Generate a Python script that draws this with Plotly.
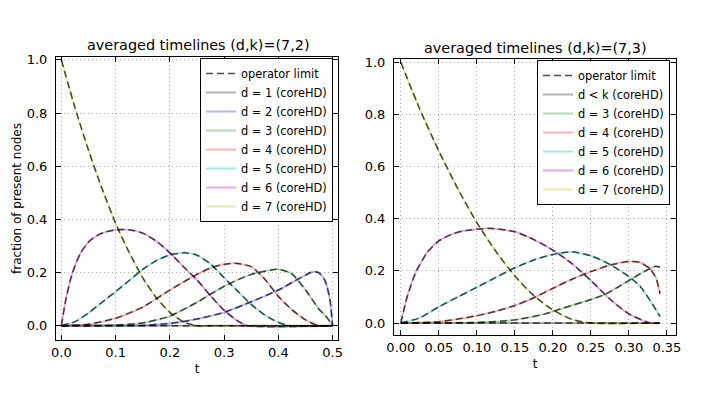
import plotly.graph_objects as go

# -----------------------
# data
# -----------------------
# (d,k) = (7,2)
t72_d1 = [0, 0.5]
n72_d1 = [0, 0]
t72_d2 = [0, 0.1, 0.15, 0.2, 0.25, 0.3, 0.35, 0.4, 0.43, 0.45, 0.464, 0.475, 0.486, 0.495, 0.5]
n72_d2 = [0, 0.0, 0.001, 0.008, 0.025, 0.05, 0.09, 0.134, 0.168, 0.19, 0.203, 0.199, 0.17, 0.1, 0.0]
t72_d3 = [0, 0.1, 0.15, 0.2, 0.25, 0.3, 0.35, 0.4, 0.425, 0.45, 0.475, 0.49, 0.5]
n72_d3 = [0, 0.002, 0.01, 0.036, 0.088, 0.148, 0.193, 0.212, 0.195, 0.135, 0.062, 0.03, 0]
t72_d4 = [0, 0.05, 0.1, 0.15, 0.2, 0.25, 0.275, 0.3, 0.32, 0.35, 0.375, 0.4, 0.425, 0.45, 0.4735, 0.5]
n72_d4 = [0, 0.005, 0.028, 0.07, 0.134, 0.193, 0.217, 0.231, 0.235, 0.222, 0.175, 0.11, 0.06, 0.022, 0, 0]
t72_d5 = [0, 0.025, 0.05, 0.075, 0.1, 0.125, 0.15, 0.175, 0.2, 0.228, 0.25, 0.275, 0.3, 0.325, 0.35, 0.375, 0.4, 0.42, 0.5]
n72_d5 = [0, 0.015, 0.048, 0.088, 0.128, 0.17, 0.212, 0.245, 0.266, 0.274, 0.265, 0.232, 0.18, 0.13, 0.08, 0.04, 0.012, 0, 0]
t72_d6 = [0, 0.008, 0.02, 0.035, 0.05, 0.065, 0.08, 0.1, 0.116, 0.135, 0.15, 0.175, 0.2, 0.225, 0.25, 0.275, 0.3, 0.325, 0.342, 0.5]
n72_d6 = [0, 0.097, 0.197, 0.272, 0.315, 0.338, 0.352, 0.36, 0.362, 0.357, 0.348, 0.318, 0.274, 0.222, 0.172, 0.112, 0.058, 0.018, 0, 0]
t72_d7 = [0, 0.025, 0.05, 0.075, 0.1, 0.125, 0.15, 0.175, 0.2, 0.225, 0.25, 0.3, 0.4, 0.5]
n72_d7 = [1.0, 0.82, 0.66, 0.515, 0.385, 0.275, 0.18, 0.105, 0.05, 0.014, 0.0, 0, 0, 0]

# (d,k) = (7,3)
t73_dk = [0, 0.341]
n73_dk = [0, 0]
t73_d3 = [0, 0.1, 0.15, 0.19, 0.21, 0.25, 0.27, 0.3, 0.32, 0.335, 0.341]
n73_d3 = [0, 0.002, 0.012, 0.035, 0.054, 0.09, 0.112, 0.163, 0.197, 0.218, 0.214]
t73_d4 = [0, 0.05, 0.075, 0.1, 0.125, 0.15, 0.175, 0.2, 0.225, 0.25, 0.275, 0.3, 0.315, 0.328, 0.336, 0.341]
n73_d4 = [0, 0.005, 0.015, 0.028, 0.045, 0.067, 0.097, 0.133, 0.168, 0.197, 0.222, 0.236, 0.232, 0.208, 0.17, 0.112]
t73_d5 = [0, 0.025, 0.05, 0.075, 0.1, 0.125, 0.15, 0.175, 0.2, 0.225, 0.25, 0.275, 0.3, 0.315, 0.328, 0.341]
n73_d5 = [0, 0.02, 0.062, 0.1, 0.137, 0.175, 0.212, 0.242, 0.263, 0.273, 0.258, 0.225, 0.178, 0.14, 0.086, 0.025]
t73_d6 = [0, 0.008, 0.02, 0.035, 0.05, 0.065, 0.08, 0.1, 0.12, 0.15, 0.175, 0.2, 0.225, 0.25, 0.275, 0.3, 0.328, 0.341]
n73_d6 = [0, 0.097, 0.197, 0.272, 0.315, 0.338, 0.352, 0.36, 0.363, 0.35, 0.32, 0.28, 0.228, 0.163, 0.092, 0.035, 0, 0]
t73_d7 = [0, 0.025, 0.05, 0.075, 0.1, 0.125, 0.15, 0.175, 0.2, 0.225, 0.25, 0.341]
n73_d7 = [1.0, 0.82, 0.66, 0.515, 0.385, 0.275, 0.18, 0.105, 0.05, 0.014, 0.0, 0.0]

labels72 = ['d = 1 (coreHD)', 'd = 2 (coreHD)', 'd = 3 (coreHD)', 'd = 4 (coreHD)',
            'd = 5 (coreHD)', 'd = 6 (coreHD)', 'd = 7 (coreHD)']
labels73 = ['d < k (coreHD)', 'd = 3 (coreHD)', 'd = 4 (coreHD)',
            'd = 5 (coreHD)', 'd = 6 (coreHD)', 'd = 7 (coreHD)']

series72 = [(t72_d1, n72_d1), (t72_d2, n72_d2), (t72_d3, n72_d3), (t72_d4, n72_d4),
            (t72_d5, n72_d5), (t72_d6, n72_d6), (t72_d7, n72_d7)]
series73 = [(t73_dk, n73_dk), (t73_d3, n73_d3), (t73_d4, n73_d4),
            (t73_d5, n73_d5), (t73_d6, n73_d6), (t73_d7, n73_d7)]

# old matplotlib k b g r c m y, faded
colors72 = ['rgba(0,0,0,0.3)', 'rgba(0,0,255,0.3)', 'rgba(0,128,0,0.3)', 'rgba(255,0,0,0.3)',
            'rgba(0,191,191,0.35)', 'rgba(191,0,191,0.35)', 'rgba(191,191,0,0.35)']
colors73 = ['rgba(0,0,0,0.3)', 'rgba(0,128,0,0.3)', 'rgba(255,0,0,0.3)',
            'rgba(0,191,191,0.35)', 'rgba(191,0,191,0.35)', 'rgba(191,191,0,0.35)']

FONT = 'DejaVu Sans'
W, H = 709, 394
ML, MR, MT, MB = 30, 10, 10, 10


def fx(px):
    return (px - ML) / (W - ML - MR)


def fy(py):
    return (H - MB - py) / (H - MT - MB)


fig = go.Figure()


def add_panel(series, labels, colors, xa, ya, leg):
    for i, ((t, n), lab, col) in enumerate(zip(series, labels, colors)):
        fig.add_trace(go.Scatter(
            x=t, y=n, mode='lines', name=lab, legend=leg, legendrank=i + 2,
            line=dict(color=col, width=2, shape='spline', smoothing=0.6),
            xaxis=xa, yaxis=ya))
    # operator limit (dashed black on top)
    for i, (t, n) in enumerate(series):
        fig.add_trace(go.Scatter(
            x=t, y=n, mode='lines', name='operator limit', legend=leg, legendrank=1,
            showlegend=(i == 0),
            line=dict(color='rgba(0,0,0,0.7)', width=1.5, dash='7px,4px',
                      shape='spline', smoothing=0.6),
            xaxis=xa, yaxis=ya))


add_panel(series72, labels72, colors72, 'x', 'y', 'legend')
add_panel(series73, labels73, colors73, 'x2', 'y2', 'legend2')

axis_style = dict(showline=True, linecolor='black', linewidth=1, mirror='ticks',
                  ticks='inside', ticklen=5, tickcolor='black', zeroline=False,
                  showgrid=True, gridcolor='#b0b0b0', griddash='1px,3px', gridwidth=1,
                  automargin=False,
                  tickfont=dict(family=FONT, size=13, color='black'))
label_font = dict(family=FONT, size=12, color='black')
title_font = dict(family=FONT, size=14.4, color='black')

legend_style = dict(bgcolor='white', bordercolor='black', borderwidth=1,
                    font=dict(family=FONT, size=11.4, color='black'),
                    tracegroupgap=0, xanchor='right', yanchor='top')

fig.update_layout(
    width=W, height=H,
    margin=dict(l=ML, r=MR, t=MT, b=MB, autoexpand=False),
    plot_bgcolor='white', paper_bgcolor='white',
    xaxis=dict(axis_style, domain=[fx(56), fx(338)], range=[-0.01, 0.51],
               dtick=0.1, tickformat='.1f', ticklabelstandoff=0,
               title=dict(text='t', font=label_font, standoff=6),
               anchor='y'),
    yaxis=dict(axis_style, domain=[fy(340), fy(57)],
               range=[-0.054, 1.011], dtick=0.2, tickformat='.1f', ticklabelstandoff=5,
               title=dict(text='fraction of present nodes', font=label_font, standoff=2),
               anchor='x'),
    xaxis2=dict(axis_style, domain=[fx(394), fx(676)], range=[-0.009, 0.362],
                dtick=0.05, tickformat='.2f', ticklabelstandoff=0,
                title=dict(text='t', font=label_font, standoff=6),
                anchor='y2'),
    yaxis2=dict(axis_style, domain=[fy(335), fy(59)],
                range=[-0.046, 1.013], dtick=0.2, tickformat='.1f', ticklabelstandoff=5,
                anchor='x2'),
    legend=dict(legend_style, x=fx(333), y=fy(58)),
    legend2=dict(legend_style, x=fx(670), y=fy(60)),
    annotations=[
        dict(text='averaged timelines (d,k)=(7,2)', x=fx(198), y=fy(45),
             xref='paper', yref='paper', xanchor='center', yanchor='middle',
             showarrow=False, font=title_font),
        dict(text='averaged timelines (d,k)=(7,3)', x=fx(535), y=fy(48),
             xref='paper', yref='paper', xanchor='center', yanchor='middle',
             showarrow=False, font=title_font),
    ],
)

# page body has a default 8px margin; drop it so the figure sits at the window corner
fig.write_html('out.html', config={'displayModeBar': False},
               post_script="document.body.style.margin='0';")
